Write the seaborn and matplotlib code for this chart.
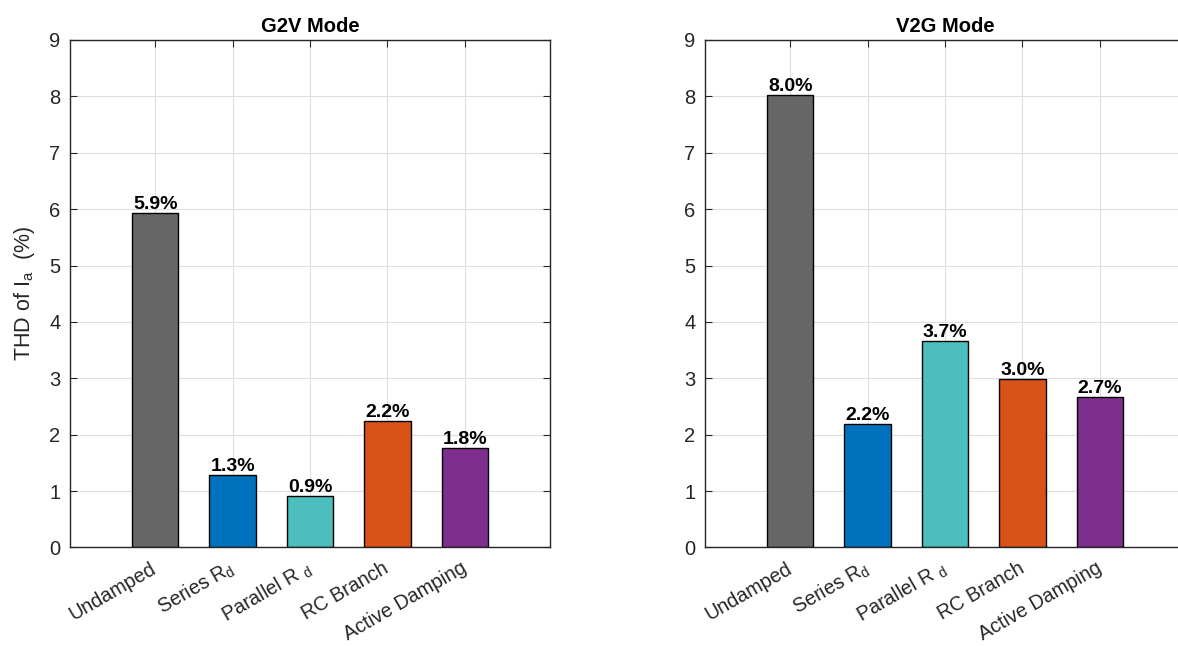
import matplotlib
matplotlib.use("Agg")
import matplotlib.pyplot as plt
import matplotlib.transforms as mtransforms
import seaborn as sns
import pandas as pd

# Damping methods and measured THD of the phase-a current (%)
methods = ["Undamped", "Series R$_\\mathregular{d}$", "Parallel R $_\\mathregular{d}$",
           "RC Branch", "Active Damping"]
thd_g2v = [5.94, 1.29, 0.91, 2.24, 1.76]
thd_v2g = [8.03, 2.19, 3.66, 2.99, 2.67]
panel_titles = ["G2V Mode", "V2G Mode"]
bar_colors = ["#666666", "#0072BD", "#4DBEBE", "#D95319", "#7E2F8E"]

sns.set_theme(style="ticks")
plt.rcParams["font.family"] = ["Liberation Sans", "DejaVu Sans"]
plt.rcParams["mathtext.fontset"] = "custom"
plt.rcParams["mathtext.rm"] = "Liberation Sans"

fig = plt.figure(figsize=(11.78, 6.46), dpi=100)
ax_left = fig.add_axes([0.0594, 0.1525, 0.4075, 0.7856])
ax_right = fig.add_axes([0.5985, 0.1525, 0.4075, 0.7856])

axis_color = "#262626"
for ax, vals, title in zip([ax_left, ax_right], [thd_g2v, thd_v2g], panel_titles):
    df = pd.DataFrame({"method": methods, "thd": vals})
    sns.barplot(data=df, x="method", y="thd", hue="method", palette=bar_colors,
                order=methods, hue_order=methods, width=0.6, edgecolor="black",
                linewidth=1.0, saturation=1.0, legend=False, ax=ax)
    for cont in ax.containers:
        ax.bar_label(cont, fmt="%.1f%%", padding=0, fontsize=14,
                     fontweight="bold", color="black")
    ax.set_xlim(-1.1, 5.1)
    ax.set_ylim(0, 9)
    ax.set_yticks(range(0, 10))
    ax.set_xticks(range(len(methods)))
    ax.set_xticklabels(methods, rotation=30, ha="right", va="center",
                       rotation_mode="anchor", fontsize=14.2, color=axis_color)
    shift = mtransforms.ScaledTranslation(11 / 100, 0, fig.dpi_scale_trans)
    for lbl in ax.get_xticklabels():
        lbl.set_transform(lbl.get_transform() + shift)
    ax.tick_params(axis="y", labelsize=14.5, labelcolor=axis_color, pad=7)
    ax.tick_params(axis="x", pad=14)
    ax.tick_params(direction="in", length=5, width=0.8, color=axis_color,
                   top=True, right=True)
    ax.grid(True, color="#dedede", linewidth=0.8)
    ax.set_axisbelow(True)
    for sp in ax.spines.values():
        sp.set_visible(True)
        sp.set_color(axis_color)
        sp.set_linewidth(1.0)
    ax.set_title(title, fontsize=14.5, fontweight="bold", color="black", pad=6)
    ax.set_xlabel("")
    ax.set_ylabel("")

ax_left.set_ylabel("THD of I$_\\mathregular{a}$  (%)", fontsize=15.5, color=axis_color,
                   labelpad=9)

fig.savefig("out.png", dpi=100)
